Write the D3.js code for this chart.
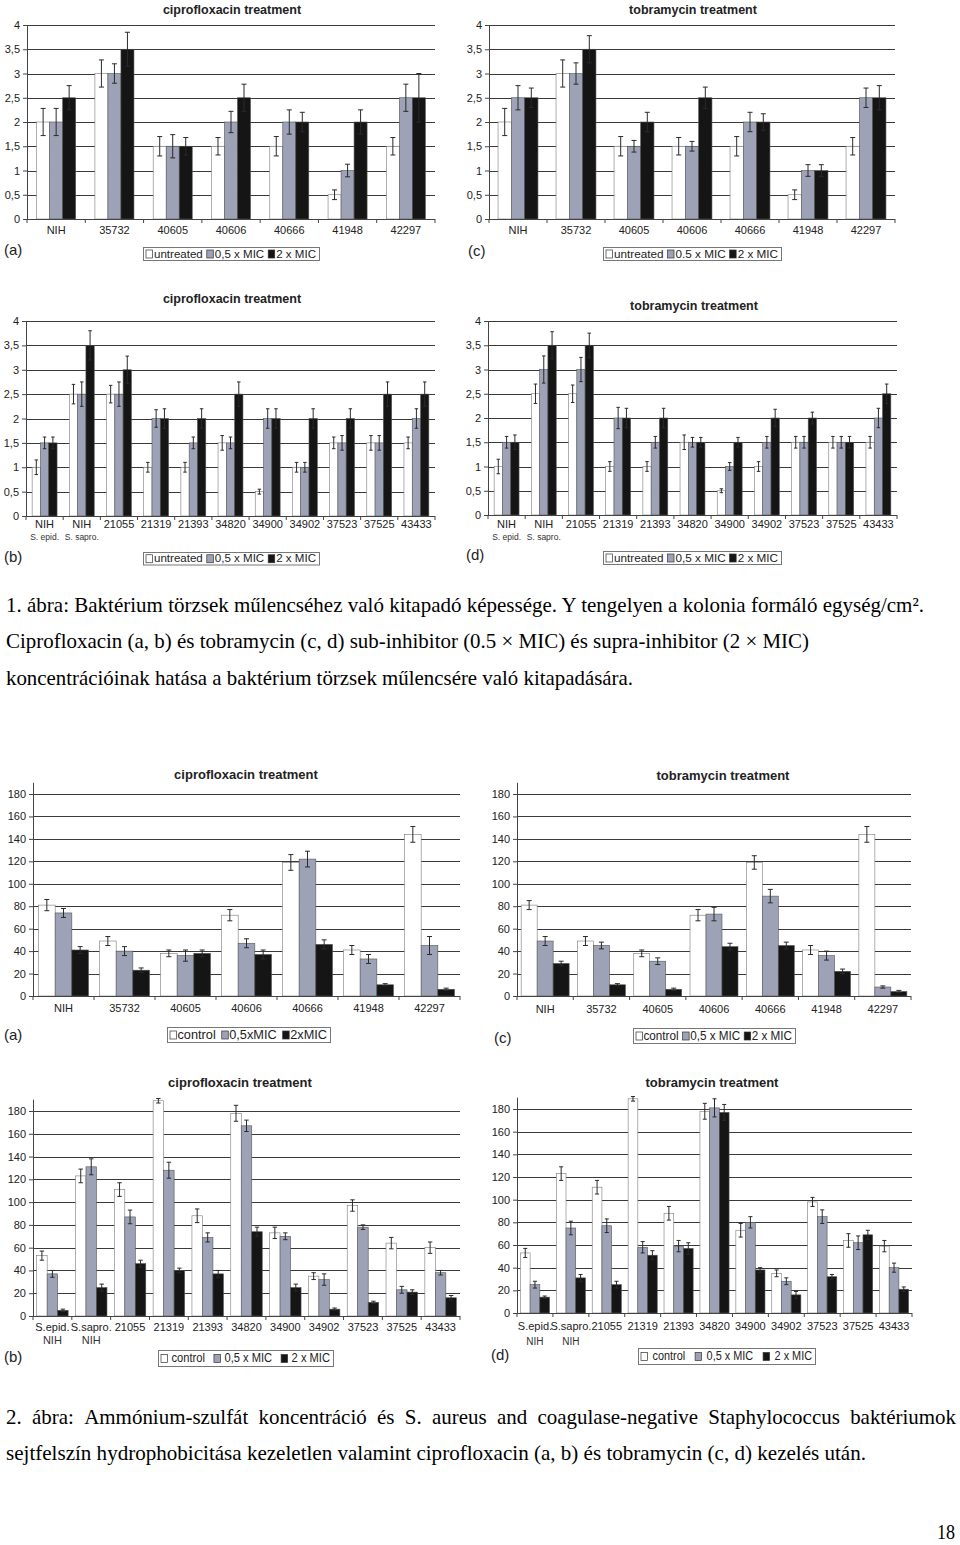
<!DOCTYPE html>
<html>
<head>
<meta charset="utf-8">
<script src="https://cdnjs.cloudflare.com/ajax/libs/d3/7.8.5/d3.min.js"></script>
<style>
  body { margin: 0; background: #fff; }
  svg { display: block; }
</style>
</head>
<body>
<script>
// ---- categories ----
const strainsA = ["NIH", "35732", "40605", "40606", "40666", "41948", "42297"];
const strainsB = ["NIH", "NIH", "21055", "21319", "21393", "34820", "34900", "34902", "37523", "37525", "43433"];
const strainsBSub = ["S. epid.", "S. sapro.", "", "", "", "", "", "", "", "", ""];
const strainsB2 = ["S.epid.", "S.sapro.", "21055", "21319", "21393", "34820", "34900", "34902", "37523", "37525", "43433"];
const strainsB2Sub = ["NIH", "NIH", "", "", "", "", "", "", "", "", ""];

// ---- tick labels ----
const cfuTicks = [0, 0.5, 1, 1.5, 2, 2.5, 3, 3.5, 4];
const cfuTickLabels = ["0", "0,5", "1", "1,5", "2", "2,5", "3", "3,5", "4"];
const hydroTicks = [0, 20, 40, 60, 80, 100, 120, 140, 160, 180];
const hydroTickLabels = ["0", "20", "40", "60", "80", "100", "120", "140", "160", "180"];

// ---- legend labels ----
const seriesUntreated = ["untreated", "0,5 x MIC", "2 x MIC"];
const seriesUntreatedDot = ["untreated", "0.5 x MIC", "2 x MIC"];
const seriesControlTight = ["control", "0,5xMIC", "2xMIC"];
const seriesControl = ["control", "0,5 x MIC", "2 x MIC"];

// ---- values, one row per strain: [untreated/control, 0.5xMIC, 2xMIC] ----
// fig 1: adherence (CFU/cm2)
const adhCiproA = [[2, 2, 2.5], [3, 3, 3.5], [1.5, 1.5, 1.5], [1.5, 2, 2.5], [1.5, 2, 2], [0.5, 1, 2], [1.5, 2.5, 2.5]];
const adhCiproAErr = [[0.28, 0.28, 0.25], [0.28, 0.2, 0.35], [0.2, 0.24, 0.18], [0.18, 0.22, 0.28], [0.2, 0.25, 0.2], [0.1, 0.13, 0.25], [0.18, 0.28, 0.5]];
const adhTobraA = [[2, 2.5, 2.5], [3, 3, 3.5], [1.5, 1.5, 2], [1.5, 1.5, 2.5], [1.5, 2, 2], [0.5, 1, 1], [1.5, 2.5, 2.5]];
const adhTobraAErr = [[0.28, 0.25, 0.2], [0.28, 0.22, 0.28], [0.2, 0.12, 0.2], [0.18, 0.1, 0.22], [0.2, 0.2, 0.17], [0.1, 0.12, 0.12], [0.18, 0.2, 0.25]];
const adhCiproB = [[1, 1.5, 1.5], [2.5, 2.5, 3.5], [2.5, 2.5, 3], [1, 2, 2], [1, 1.5, 2], [1.5, 1.5, 2.5], [0.5, 2, 2], [1, 1, 2], [1.5, 1.5, 2], [1.5, 1.5, 2.5], [1.5, 2, 2.5]];
const adhCiproBErr = [[0.15, 0.12, 0.12], [0.2, 0.25, 0.3], [0.18, 0.25, 0.28], [0.1, 0.18, 0.2], [0.1, 0.12, 0.2], [0.15, 0.12, 0.25], [0.05, 0.2, 0.2], [0.1, 0.1, 0.2], [0.12, 0.15, 0.2], [0.15, 0.15, 0.25], [0.12, 0.2, 0.25]];
const adhTobraB = [[1, 1.5, 1.5], [2.5, 3, 3.5], [2.5, 3, 3.5], [1, 2, 2], [1, 1.5, 2], [1.5, 1.5, 1.5], [0.5, 1, 1.5], [1, 1.5, 2], [1.5, 1.5, 2], [1.5, 1.5, 1.5], [1.5, 2, 2.5]];
const adhTobraBErr = [[0.15, 0.12, 0.15], [0.2, 0.28, 0.28], [0.18, 0.25, 0.25], [0.1, 0.22, 0.2], [0.1, 0.12, 0.2], [0.15, 0.1, 0.1], [0.04, 0.08, 0.1], [0.1, 0.12, 0.18], [0.12, 0.12, 0.12], [0.12, 0.12, 0.12], [0.12, 0.2, 0.2]];

// fig 2: cell surface hydrophobicity
const hydCiproA = [[81, 74, 41], [49, 40, 23], [38, 36, 38], [72, 47, 37], [119, 122, 46], [41, 33, 10], [144, 45, 6]];
const hydCiproAErr = [[5, 4, 3], [4, 4, 2], [3, 5, 3], [5, 4, 4], [7, 7, 4], [4, 4, 1], [7, 8, 1]];
const hydTobraA = [[81, 49, 29], [49, 45, 10], [38, 31, 6], [72, 73, 44], [119, 89, 45], [41, 36, 22], [144, 8, 4]];
const hydTobraAErr = [[4, 4, 2], [4, 3, 1], [3, 3, 1], [5, 6, 3], [6, 6, 3], [4, 4, 2], [7, 1, 1]];
const hydCiproB = [[53, 37, 5], [123, 131, 25], [111, 87, 46], [189, 128, 40], [88, 69, 37], [178, 167, 74], [73, 70, 25], [35, 32, 6], [97, 78, 12], [64, 23, 21], [60, 38, 16]];
const hydCiproBErr = [[4, 3, 1], [6, 7, 3], [6, 6, 3], [2, 7, 2], [6, 4, 3], [7, 5, 4], [5, 3, 3], [3, 5, 1], [5, 2, 1], [5, 3, 2], [5, 2, 2]];
const hydTobraB = [[53, 25, 14], [123, 75, 31], [111, 77, 25], [189, 58, 51], [88, 59, 57], [178, 181, 177], [73, 80, 38], [35, 28, 16], [98, 85, 32], [64, 62, 69], [59, 40, 21]];
const hydTobraBErr = [[4, 3, 1], [6, 6, 3], [6, 6, 3], [2, 5, 4], [6, 5, 5], [7, 8, 7], [6, 5, 2], [3, 3, 3], [4, 6, 2], [6, 6, 4], [5, 4, 2]];

const colors = ["#ffffff", "#9ea2b6", "#151515"];
const FONT = "'Liberation Sans', Arial, sans-serif";
const SERIF = "'Liberation Serif', 'Times New Roman', serif";
const CAP_FS = 22;

const svg = d3.select("body").append("svg")
  .attr("width", 960).attr("height", 1545)
  .attr("font-family", FONT);

// layout of the eight panels
const panels = [
  { cats: strainsA, vals: adhCiproA, errs: adhCiproAErr, series: seriesUntreated,
    ticks: cfuTicks, tickLabels: cfuTickLabels, axisMax: 4,
    x: 27, right: 435, y0: 219, yTop: 25, pad: 0.74,
    title: "ciprofloxacin treatment", tx: 232, ty: 14, tfs: 12.5,
    labY: 234, letter: "(a)", lx: 4, ly: 255,
    legend: { x: 143, y: 247, w: 176, h: 13, fs: 11.5, g1: 1.5, g2: 4 } },
  { cats: strainsA, vals: adhTobraA, errs: adhTobraAErr, series: seriesUntreatedDot,
    ticks: cfuTicks, tickLabels: cfuTickLabels, axisMax: 4,
    x: 489, right: 895, y0: 219, yTop: 25, pad: 0.68,
    title: "tobramycin treatment", tx: 693, ty: 14, tfs: 12.5,
    labY: 234, letter: "(c)", lx: 468, ly: 256,
    legend: { x: 603, y: 247, w: 178, h: 13, fs: 11.5, g1: 1.5, g2: 4 } },
  { cats: strainsB, sub: strainsBSub, subY: 540, subFs: 8.5, vals: adhCiproB, errs: adhCiproBErr, series: seriesUntreated,
    ticks: cfuTicks, tickLabels: cfuTickLabels, axisMax: 4,
    x: 26, right: 435, y0: 516, yTop: 321, pad: 0.74,
    title: "ciprofloxacin treatment", tx: 232, ty: 303, tfs: 12.5,
    labY: 528, letter: "(b)", lx: 4, ly: 562,
    legend: { x: 143, y: 552, w: 176, h: 12.5, fs: 11.5, g1: 1.5, g2: 4 } },
  { cats: strainsB, sub: strainsBSub, subY: 540, subFs: 8.5, vals: adhTobraB, errs: adhTobraBErr, series: seriesUntreated,
    ticks: cfuTicks, tickLabels: cfuTickLabels, axisMax: 4,
    x: 488, right: 897, y0: 515, yTop: 321, pad: 0.74,
    title: "tobramycin treatment", tx: 694, ty: 310, tfs: 12.5,
    labY: 528, letter: "(d)", lx: 466, ly: 560,
    legend: { x: 603, y: 551, w: 178, h: 13, fs: 11.5, g1: 1.5, g2: 4 } },
  { cats: strainsA, vals: hydCiproA, errs: hydCiproAErr, series: seriesControlTight,
    ticks: hydroTicks, tickLabels: hydroTickLabels, axisMax: 190,
    x: 33, right: 460, y0: 996, yTop: 794, pad: 0.33,
    title: "ciprofloxacin treatment", tx: 246, ty: 779, tfs: 13,
    labY: 1012, letter: "(a)", lx: 4, ly: 1040,
    legend: { x: 167, y: 1027, w: 163, h: 15, fs: 12.5, g1: 1, g2: 6 } },
  { cats: strainsA, vals: hydTobraA, errs: hydTobraAErr, series: seriesControl,
    ticks: hydroTicks, tickLabels: hydroTickLabels, axisMax: 190,
    x: 517, right: 911, y0: 996, yTop: 794, pad: 0.26,
    title: "tobramycin treatment", tx: 723, ty: 780, tfs: 13,
    labY: 1013, letter: "(c)", lx: 494, ly: 1043,
    legend: { x: 633, y: 1028, w: 162, h: 15, fs: 12, g1: 1, g2: 4 } },
  { cats: strainsB2, sub: strainsB2Sub, subY: 1344, subFs: 11, vals: hydCiproB, errs: hydCiproBErr, series: seriesControl,
    ticks: hydroTicks, tickLabels: hydroTickLabels, axisMax: 190,
    x: 33, right: 460, y0: 1316, yTop: 1111, pad: 0.35,
    title: "ciprofloxacin treatment", tx: 240, ty: 1087, tfs: 13,
    labY: 1331, letter: "(b)", lx: 4, ly: 1362,
    legend: { x: 158, y: 1350, w: 175, h: 16, fs: 12, g1: 4, g2: 9 } },
  { cats: strainsB2, sub: strainsB2Sub, subY: 1345, subFs: 10, vals: hydTobraB, errs: hydTobraBErr, series: seriesControl,
    ticks: hydroTicks, tickLabels: hydroTickLabels, axisMax: 190,
    x: 517, right: 912, y0: 1313, yTop: 1109, pad: 0.35,
    title: "tobramycin treatment", tx: 712, ty: 1087, tfs: 13,
    labY: 1330, letter: "(d)", lx: 491, ly: 1360,
    legend: { x: 638, y: 1348, w: 177, h: 16, fs: 12, g1: 5, g2: 10 } }
];

function drawPanel(p) {
  const g = svg.append("g");
  const n = p.cats.length;
  const x0 = d3.scaleBand().domain(d3.range(n)).range([p.x, p.right]);
  const x1 = d3.scaleBand().domain([0, 1, 2]).range([0, x0.bandwidth()]).paddingOuter(p.pad);
  const last = p.ticks[p.ticks.length - 1];
  const y = d3.scaleLinear().domain([0, last]).range([p.y0, p.yTop]);

  // gridlines
  g.append("g").selectAll("line")
    .data(p.ticks.filter(t => t > 0))
    .join("line")
      .attr("x1", p.x).attr("x2", p.right)
      .attr("y1", d => Math.round(y(d)) + 0.5).attr("y2", d => Math.round(y(d)) + 0.5)
      .attr("stroke", "#3a3a3a").attr("stroke-width", 1);

  const rows = p.vals.flatMap((r, i) => r.map((v, j) => ({ i, j, v, e: p.errs[i][j] })));
  const bw = x1.bandwidth();
  const cx = d => x0(d.i) + x1(d.j) + bw / 2;

  g.append("g").selectAll("rect")
    .data(rows)
    .join("rect")
      .attr("x", d => x0(d.i) + x1(d.j))
      .attr("width", bw)
      .attr("y", d => y(d.v))
      .attr("height", d => p.y0 - y(d.v))
      .attr("fill", d => colors[d.j])
      .attr("stroke", d => d.j === 0 ? "#7a7a7a" : "#555")
      .attr("stroke-width", 0.6);

  // error bars
  const cap = Math.min(5, bw * 0.42);
  const eb = g.append("g").attr("stroke", "#2a2a2a").attr("stroke-width", 1);
  eb.selectAll(".v").data(rows).join("line").attr("class", "v")
    .attr("x1", cx).attr("x2", cx)
    .attr("y1", d => y(d.v - d.e)).attr("y2", d => y(d.v + d.e));
  eb.selectAll(".t").data(rows).join("line").attr("class", "t")
    .attr("x1", d => cx(d) - cap / 2).attr("x2", d => cx(d) + cap / 2)
    .attr("y1", d => y(d.v + d.e)).attr("y2", d => y(d.v + d.e));
  eb.selectAll(".b").data(rows).join("line").attr("class", "b")
    .attr("x1", d => cx(d) - cap / 2).attr("x2", d => cx(d) + cap / 2)
    .attr("y1", d => y(d.v - d.e)).attr("y2", d => y(d.v - d.e));

  // y axis
  const yg = g.append("g")
    .attr("transform", `translate(${p.x},0)`)
    .call(d3.axisLeft(y).tickValues(p.ticks).tickFormat((d, i) => p.tickLabels[i])
      .tickSize(4).tickSizeOuter(0).tickPadding(3));
  yg.select(".domain").remove();
  yg.attr("font-family", FONT).attr("font-size", 11);
  yg.selectAll("line").attr("stroke", "#444");
  yg.selectAll("text").attr("fill", "#222");
  g.append("line")
    .attr("x1", p.x + 0.5).attr("x2", p.x + 0.5)
    .attr("y1", p.y0).attr("y2", y(p.axisMax))
    .attr("stroke", "#444");

  // x axis
  g.append("line")
    .attr("x1", p.x).attr("x2", p.right)
    .attr("y1", p.y0 + 0.5).attr("y2", p.y0 + 0.5)
    .attr("stroke", "#444");
  g.append("g").selectAll("line")
    .data(d3.range(n + 1))
    .join("line")
      .attr("x1", i => p.x + i * x0.step()).attr("x2", i => p.x + i * x0.step())
      .attr("y1", p.y0).attr("y2", p.y0 + 4)
      .attr("stroke", "#444");
  g.append("g").selectAll("text")
    .data(p.cats)
    .join("text")
      .attr("x", (d, i) => x0(i) + x0.bandwidth() / 2)
      .attr("y", p.labY)
      .attr("text-anchor", "middle")
      .attr("font-size", 11)
      .attr("fill", "#222")
      .text(d => d);
  if (p.sub) {
    g.append("g").selectAll("text")
      .data(p.sub)
      .join("text")
        .attr("x", (d, i) => x0(i) + x0.bandwidth() / 2)
        .attr("y", p.subY)
        .attr("text-anchor", "middle")
        .attr("font-size", p.subFs)
        .attr("fill", "#333")
        .text(d => d);
  }

  // title and panel letter
  g.append("text")
    .attr("x", p.tx).attr("y", p.ty)
    .attr("text-anchor", "middle")
    .attr("font-weight", "bold")
    .attr("font-size", p.tfs)
    .attr("fill", "#222")
    .text(p.title);
  g.append("text")
    .attr("x", p.lx).attr("y", p.ly)
    .attr("font-size", 15)
    .attr("fill", "#222")
    .text(p.letter);

  // legend: squares + labels, labels stretched to fill the box
  const L = p.legend;
  const lg = g.append("g");
  lg.append("rect")
    .attr("x", L.x + 0.5).attr("y", L.y + 0.5)
    .attr("width", L.w).attr("height", L.h)
    .attr("fill", "#fff").attr("stroke", "#777");
  const sq = 6.5;
  const texts = p.series.map(s => lg.append("text")
    .attr("y", L.y + L.h / 2 + L.fs * 0.36)
    .attr("font-size", L.fs)
    .attr("fill", "#222")
    .text(s));
  const natural = texts.map(t => t.node().getComputedTextLength());
  const room = L.w - 6 - 3 * (sq + L.g1) - 2 * L.g2;
  const s = room / d3.sum(natural);
  let lx = L.x + 3;
  texts.forEach((t, j) => {
    lg.append("rect")
      .attr("x", lx).attr("y", L.y + L.h / 2 - 3.5)
      .attr("width", sq).attr("height", 8)
      .attr("fill", colors[j]).attr("stroke", "#333").attr("stroke-width", 0.7);
    lx += sq + L.g1;
    const tw = natural[j] * s;
    t.attr("x", lx).attr("textLength", tw).attr("lengthAdjust", "spacingAndGlyphs");
    lx += tw + L.g2;
  });
}

panels.forEach(drawPanel);

// ---- captions ----
function capLine(txt, x, y, w) {
  return svg.append("text")
    .attr("x", x).attr("y", y)
    .attr("font-family", SERIF).attr("font-size", CAP_FS).attr("fill", "#000")
    .attr("textLength", w).attr("lengthAdjust", "spacingAndGlyphs")
    .text(txt);
}

capLine("1. ábra: Baktérium törzsek műlencséhez való kitapadó képessége. Y tengelyen a kolonia formáló egység/cm².", 6, 612, 918);
capLine("Ciprofloxacin (a, b) és tobramycin (c, d) sub-inhibitor (0.5 × MIC) és supra-inhibitor (2 × MIC)", 6, 648, 803);
capLine("koncentrációinak hatása a baktérium törzsek műlencsére való kitapadására.", 6, 685, 627);

// glyph scale taken from a normal line, used for the justified line
const probe = svg.append("text").attr("font-family", SERIF).attr("font-size", CAP_FS)
  .text("Ciprofloxacin (a, b) és tobramycin (c, d) sub-inhibitor (0.5 × MIC) és supra-inhibitor (2 × MIC)");
const k = 803 / probe.node().getComputedTextLength();
probe.remove();

function capJustified(txt, x, y, w) {
  const words = txt.split(" ");
  const nodes = words.map(wd => svg.append("text")
    .attr("y", y).attr("font-family", SERIF).attr("font-size", CAP_FS).attr("fill", "#000").text(wd));
  const widths = nodes.map(nd => nd.node().getComputedTextLength() * k);
  const gap = (w - d3.sum(widths)) / (words.length - 1);
  let cx = x;
  nodes.forEach((nd, i) => {
    nd.attr("x", cx).attr("textLength", widths[i]).attr("lengthAdjust", "spacingAndGlyphs");
    cx += widths[i] + gap;
  });
}

capJustified("2. ábra: Ammónium-szulfát koncentráció és S. aureus and coagulase-negative Staphylococcus baktériumok", 6, 1424, 950);
capLine("sejtfelszín hydrophobicitása kezeletlen valamint ciprofloxacin (a, b) és tobramycin (c, d) kezelés után.", 6, 1460, 860);

svg.append("text")
  .attr("x", 955).attr("y", 1539)
  .attr("text-anchor", "end")
  .attr("font-family", SERIF).attr("font-size", CAP_FS)
  .attr("textLength", 18).attr("lengthAdjust", "spacingAndGlyphs")
  .text("18");
</script>
</body>
</html>
